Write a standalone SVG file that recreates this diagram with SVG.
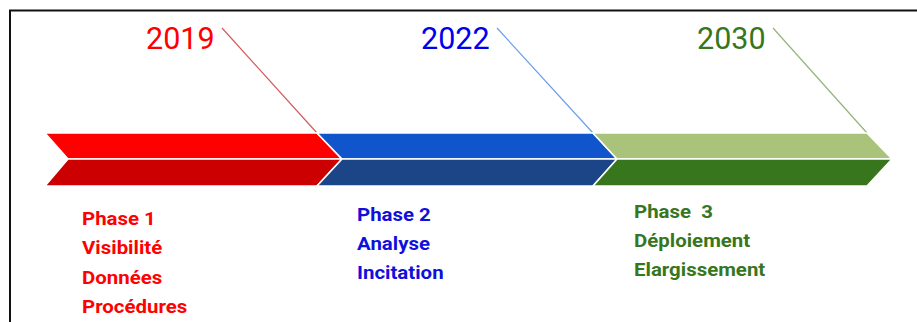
<svg xmlns="http://www.w3.org/2000/svg" width="917" height="322" viewBox="0 0 917 322">
<style>
.year{font-family:Roboto,"Liberation Sans",sans-serif;font-size:30.5px;font-weight:400}
.ph{font-family:Roboto,"Liberation Sans",sans-serif;font-size:19px;font-weight:700;white-space:pre}
.band{stroke:#ffffff;stroke-width:1.6;stroke-linejoin:miter}
.lead{fill:none;stroke-width:1.2}
</style>
<rect width="917" height="322" fill="#ffffff"/>
<path d="M10 322 V10.5 H917" fill="none" stroke="#111111" stroke-width="2"/>
<g id="connectors">
<line class="lead" x1="222" y1="28" x2="317" y2="133" stroke="#d35a5a"/>
<line class="lead" x1="497" y1="28" x2="593" y2="133" stroke="#6d9eeb"/>
<line class="lead" x1="773" y1="28" x2="867" y2="133" stroke="#93b57a"/>
</g>
<g id="phase1">
<polygon class="band" points="45,133 317,133 342,159 68,159" fill="#ff0000"/>
<polygon class="band" points="68,159 342,159 317,186 45,186" fill="#cc0000"/>
<text class="year" x="146" y="49" fill="#ff0000">2019</text>
<g transform="translate(82,0) scale(1.075,1)">
<text class="ph" fill="#ff0000"><tspan x="0" y="225">Phase 1</tspan><tspan x="0" y="254.5">Visibilité</tspan><tspan x="0" y="284">Données</tspan><tspan x="0" y="313">Procédures</tspan></text>
</g>
</g>
<g id="phase2">
<polygon class="band" points="317,133 593,133 617,159 342,159" fill="#1155cc"/>
<polygon class="band" points="342,159 617,159 593,186 317,186" fill="#1c4587"/>
<text class="year" x="421" y="49" fill="#0000ee">2022</text>
<g transform="translate(357,0) scale(1.075,1)">
<text class="ph" fill="#1010dd"><tspan x="0" y="221">Phase 2</tspan><tspan x="0" y="250">Analyse</tspan><tspan x="0" y="279">Incitation</tspan></text>
</g>
</g>
<g id="phase3">
<polygon class="band" points="593,133 867,133 892,159 617,159" fill="#a9c47a"/>
<polygon class="band" points="617,159 892,159 867,186 593,186" fill="#38761d"/>
<text class="year" x="697" y="49" fill="#38761d">2030</text>
<g transform="translate(634,0) scale(1.075,1)">
<text class="ph" fill="#38761d"><tspan x="0" y="218">Phase  3</tspan><tspan x="0" y="247">Déploiement</tspan><tspan x="0" y="276">Elargissement</tspan></text>
</g>
</g>
</svg>
